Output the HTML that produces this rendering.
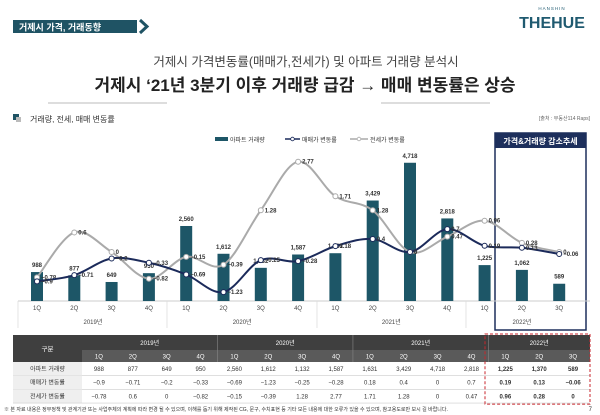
<!DOCTYPE html>
<html><head><meta charset="utf-8">
<style>
body{margin:0;width:600px;height:415px;overflow:hidden;background:#fff;font-family:"Liberation Sans","Noto Sans CJK KR",sans-serif;}
svg{position:absolute;left:0;top:0}
</style></head>
<body>
<svg width="600" height="415" viewBox="0 0 600 415" font-family="Liberation Sans, Noto Sans CJK KR, sans-serif">
<g>
<rect x="13" y="20" width="124" height="13" fill="#1f5364"/>
<path d="M140 20 L147 26.5 L140 33" stroke="#1f5364" stroke-width="3" fill="none"/>
<text x="19" y="30.5" font-size="9" font-weight="bold" fill="#fff">거제시 가격, 거래동향</text>
<text x="552" y="10" font-size="4.5" fill="#1f5a70" text-anchor="middle" letter-spacing="1">HANSHIN</text>
<text x="552" y="28" font-size="16" font-weight="bold" fill="#1f5a70" text-anchor="middle">THEHUE</text>
<text x="306" y="66" font-size="12.5" fill="#444" text-anchor="middle">거제시 가격변동률(매매가,전세가) 및 아파트 거래량 분석시</text>
<text x="305" y="91" font-size="17" font-weight="bold" fill="#222" text-anchor="middle">거제시 ‘21년 3분기 이후 거래량 급감 → 매매 변동률은 상승</text>
<line x1="48" y1="103" x2="167" y2="103" stroke="#bbb" stroke-width="1"/>
<line x1="381" y1="103" x2="490" y2="103" stroke="#bbb" stroke-width="1"/>
<rect x="13" y="114" width="6" height="6" fill="#1f5364"/><rect x="16" y="117" width="5" height="5" fill="#bbb"/>
<text x="30" y="122" font-size="8" fill="#333">거래량, 전세, 매매 변동률</text>
<text x="590" y="120" font-size="5" fill="#666" text-anchor="end">[출처 : 부동산114 Raps]</text>
</g>
<g id="chart"></g>
<g id="table"></g>
<text x="4" y="411" font-size="5" fill="#333">※ 본 자료 내용은 정부정책 및 관계기관 또는 사업주체의 계획에 따라 변경 될 수 있으며, 이해를 돕기 위해 제작된 CG, 문구, 수치표현 등 기타 모든 내용에 대한 오류가 있을 수 있으며, 참고용도로만 보시 길 바랍니다.</text>
<text x="592" y="411" font-size="6" fill="#333" text-anchor="end">7</text>
</svg>
<script>
const categories=["1Q","2Q","3Q","4Q","1Q","2Q","3Q","4Q","1Q","2Q","3Q","4Q","1Q","2Q","3Q"];
const years=["2019년","2020년","2021년","2022년"];
const volume=[988,877,649,950,2560,1612,1132,1587,1631,3429,4718,2818,1225,1062,589];
const saleRate=[-0.9,-0.71,-0.2,-0.33,-0.69,-1.23,-0.25,-0.28,0.18,0.4,0,0.7,0.19,0.13,-0.06];
const jeonseRate=[-0.78,0.6,0,-0.82,-0.15,-0.39,1.28,2.77,1.71,1.28,0,0.47,0.96,0.28,0];
const tableVolume=["988","877","649","950","2,560","1,612","1,132","1,587","1,631","3,429","4,718","2,818","1,225","1,370","589"];
const tableSale=["−0.9","−0.71","−0.2","−0.33","−0.69","−1.23","−0.25","−0.28","0.18","0.4","0","0.7","0.19","0.13","−0.06"];
const tableJeonse=["−0.78","0.6","0","−0.82","−0.15","−0.39","1.28","2.77","1.71","1.28","0","0.47","0.96","0.28","0"];

const NS="http://www.w3.org/2000/svg";
function mk(p,tag,attrs,txt){const e=document.createElementNS(NS,tag);for(const k in attrs)e.setAttribute(k,attrs[k]);if(txt!==undefined)e.textContent=txt;p.appendChild(e);return e;}
const chart=document.getElementById('chart');
const baseY=301;
const xOf=i=>37+i*37.3;
const yVol=v=>baseY-v*0.0293;
const yRate=v=>252-v*32.6;
const fmt=v=>v.toLocaleString('en-US');
const fmtR=v=>v<0?'−'+Math.abs(v):String(v);

let hb=mk(chart,'rect',{x:495,y:133,width:91,height:197,fill:'none',stroke:'#1d2f5c','stroke-width':1.5});


let hh=mk(chart,'rect',{x:495,y:133,width:91,height:15,fill:'#1d2f5c'});


let ht=mk(chart,'text',{x:540.5,y:144,'font-size':8,'font-weight':'bold',fill:'#fff','text-anchor':'middle'},'가격&거래량 감소추세');



let l1=mk(chart,'rect',{x:215,y:137,width:13,height:4,fill:'#1d5667'});


let lt1=mk(chart,'text',{x:230,y:142,'font-size':6,fill:'#333'},'아파트 거래량');


mk(chart,'line',{x1:285,y1:139,x2:300,y2:139,stroke:'#1b2a5a','stroke-width':1.5});
mk(chart,'circle',{cx:292.5,cy:139,r:1.8,fill:'#fff',stroke:'#1b2a5a','stroke-width':0.8});
let lt2=mk(chart,'text',{x:302,y:142,'font-size':6,fill:'#333'},'매매가 변동률');


mk(chart,'line',{x1:350,y1:139,x2:368,y2:139,stroke:'#aaa','stroke-width':1.5});
mk(chart,'circle',{cx:359,cy:139,r:1.8,fill:'#fff',stroke:'#aaa','stroke-width':0.8});
let lt3=mk(chart,'text',{x:370,y:142,'font-size':6,fill:'#333'},'전세가 변동률');



mk(chart,'line',{x1:18,y1:baseY,x2:590,y2:baseY,stroke:'#ccc','stroke-width':1});
[18,167,317,466].forEach(x=>mk(chart,'line',{x1:x,y1:baseY,x2:x,y2:328,stroke:'#ddd','stroke-width':0.8}));
categories.forEach((c,i)=>{
  const t=mk(chart,'text',{x:xOf(i),y:310,'font-size':6,fill:'#444','text-anchor':'middle'},c);
  
  
});
const yearCenters=[1.5,5.5,9.5,13];
years.forEach((y,i)=>{
  const t=mk(chart,'text',{x:xOf(yearCenters[i]),y:324,'font-size':6,fill:'#444','text-anchor':'middle'},y);
  
  
});

volume.forEach((v,i)=>{
  const b=mk(chart,'rect',{x:xOf(i)-6,y:yVol(v),width:12,height:baseY-yVol(v),fill:'#1d5667'});
  
  
  const t=mk(chart,'text',{x:xOf(i),y:yVol(v)-5,'font-size':6,fill:'#333','text-anchor':'middle','font-weight':'bold'},fmt(v));
  
  
});

function smooth(pts){
  let d=`M${pts[0][0]},${pts[0][1]}`;
  for(let i=0;i<pts.length-1;i++){
    const p0=pts[i-1]||pts[i],p1=pts[i],p2=pts[i+1],p3=pts[i+2]||p2;
    const c1=[p1[0]+(p2[0]-p0[0])/6,p1[1]+(p2[1]-p0[1])/6];
    const c2=[p2[0]-(p3[0]-p1[0])/6,p2[1]-(p3[1]-p1[1])/6];
    d+=` C${c1[0]},${c1[1]} ${c2[0]},${c2[1]} ${p2[0]},${p2[1]}`;
  }
  return d;
}
function series(vals,color,name){
  const pts=vals.map((v,i)=>[xOf(i),yRate(v)]);
  const p=mk(chart,'path',{d:smooth(pts),fill:'none',stroke:color,'stroke-width':2});
  
  
  pts.forEach((pt,i)=>{
    const c=mk(chart,'circle',{cx:pt[0],cy:pt[1],r:2.5,fill:'#fff',stroke:color,'stroke-width':1});
    
    
    const t=mk(chart,'text',{x:pt[0]+4,y:pt[1]+2,'font-size':6,fill:'#333','font-weight':'bold'},fmtR(vals[i]));
    
    
  });
}
series(jeonseRate,'#aaaaaa','jeonse-rate');
series(saleRate,'#1b2a5a','sale-rate');

const tb=document.getElementById('table');
const tTop=335,h1=15,h2=12,rh=13.7;
const colX=i=>82+i*(508/15);
const cw=508/15;
mk(tb,'rect',{x:13,y:tTop,width:577,height:h1+h2,fill:'#3f3f3f'});
mk(tb,'rect',{x:82,y:tTop+h1,width:508,height:h2,fill:'#5a5a5a'});
let g=mk(tb,'text',{x:47.5,y:tTop+16,'font-size':6.5,fill:'#fff','text-anchor':'middle'},'구분');


years.forEach((y,i)=>{
  const x0=colX(i*4),w=(i<3?4:3)*cw;
  const t=mk(tb,'text',{x:x0+w/2,y:tTop+10,'font-size':6,fill:'#fff','text-anchor':'middle'},y);
  
  
  if(i>0)mk(tb,'line',{x1:x0,y1:tTop,x2:x0,y2:tTop+h1+h2,stroke:'#888','stroke-width':0.6});
});
categories.forEach((c,i)=>{
  const t=mk(tb,'text',{x:colX(i)+cw/2,y:tTop+h1+8.5,'font-size':6,fill:'#fff','text-anchor':'middle'},c);
  
  
});
const rowNames=['아파트 거래량','매매가 변동률','전세가 변동률'];
const rowsData=[tableVolume,tableSale,tableJeonse];
rowNames.forEach((n,r)=>{
  const y0=tTop+h1+h2+r*rh;
  mk(tb,'rect',{x:13,y:y0,width:69,height:rh,fill:'#efefef'});
  mk(tb,'line',{x1:13,y1:y0+rh,x2:590,y2:y0+rh,stroke:'#ccc','stroke-width':0.6});
  const t=mk(tb,'text',{x:47.5,y:y0+9,'font-size':6,fill:'#333','text-anchor':'middle'},n);
  
  
  rowsData[r].forEach((v,i)=>{
    const c=mk(tb,'text',{x:colX(i)+cw/2,y:y0+9,'font-size':6,fill:'#333','text-anchor':'middle','font-weight':i>=12?'bold':'normal'},v);
    
    
  });
});
let db=mk(tb,'rect',{x:485,y:tTop-1,width:105,height:h1+h2+3*rh+2,fill:'none',stroke:'#c8262c','stroke-width':1,'stroke-dasharray':'3,2'});


</script>
</body></html>
